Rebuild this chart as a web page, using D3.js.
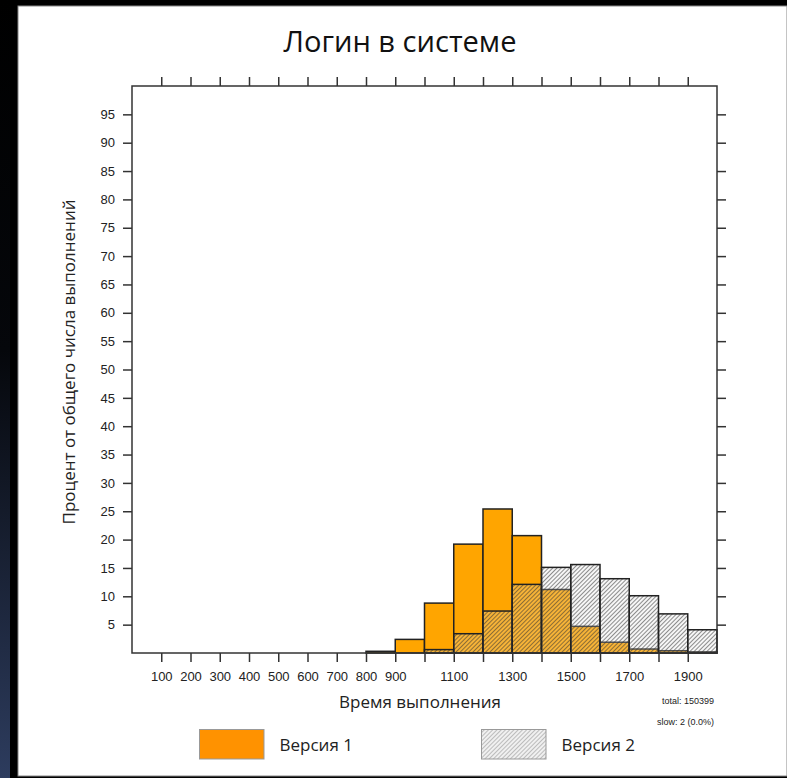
<!DOCTYPE html>
<html><head><meta charset="utf-8">
<script src="https://cdn.jsdelivr.net/npm/d3@7"></script>
<style>
html,body{margin:0;padding:0;background:#000;}
svg{display:block;}
</style></head>
<body>
<script>
const title = "Логин в системе";
const xTitle = "Время выполнения";
const yTitle = "Процент от общего числа выполнений";
const binStarts = [0,100,200,300,400,500,600,700,800,900,1000,1100,1200,1300,1400,1500,1600,1700,1800,1900];
const version1 = [0,0,0,0,0,0,0,0,0.3,2.4,8.8,19.2,25.4,20.7,11.2,4.7,1.9,0.7,0.4,0.2];
const version2 = [0,0,0,0,0,0,0,0,0,0,0.6,3.4,7.4,12.1,15.1,15.6,13.1,10.1,6.9,4.1];
const xTicks = [100,200,300,400,500,600,700,800,900,1000,1100,1200,1300,1400,1500,1600,1700,1800,1900];
const xTickLabels = [100,200,300,400,500,600,700,800,900,1100,1300,1500,1700,1900];
const yTicks = [5,10,15,20,25,30,35,40,45,50,55,60,65,70,75,80,85,90,95];
const seriesNames = ["Версия 1","Версия 2"];
const notes = ["total: 150399","slow: 2 (0.0%)"];

const W = 787, H = 778;
const svg = d3.select("body").append("svg").attr("width", W).attr("height", H);
const defs = svg.append("defs");
const grad = defs.append("linearGradient").attr("id","sideGrad").attr("x1",0).attr("y1",0).attr("x2",0).attr("y2",1);
grad.append("stop").attr("offset","0").attr("stop-color","#000");
grad.append("stop").attr("offset","0.45").attr("stop-color","#05070b");
grad.append("stop").attr("offset","1").attr("stop-color","#2d3c5e");
const pat = defs.append("pattern").attr("id","hatch").attr("patternUnits","userSpaceOnUse")
  .attr("width",3).attr("height",3).attr("patternTransform","rotate(45)");
pat.append("rect").attr("width",3).attr("height",3).attr("fill","rgba(220,220,220,0.25)");
pat.append("line").attr("x1",0).attr("y1",0).attr("x2",0).attr("y2",3).attr("stroke","#333").attr("stroke-width",1.1);
const pat2 = defs.append("pattern").attr("id","hatchL").attr("patternUnits","userSpaceOnUse")
  .attr("width",3).attr("height",3).attr("patternTransform","rotate(45)");
pat2.append("rect").attr("width",3).attr("height",3).attr("fill","#f0f0f0");
pat2.append("line").attr("x1",0).attr("y1",0).attr("x2",0).attr("y2",3).attr("stroke","#888").attr("stroke-width",1);

// background
svg.append("rect").attr("width",W).attr("height",H).attr("fill","#000");
svg.append("rect").attr("x",0).attr("y",0).attr("width",10).attr("height",H).attr("fill","url(#sideGrad)");
svg.append("rect").attr("x",18).attr("y",6).attr("width",W-18).attr("height",770).attr("fill","#fff").attr("stroke","#888").attr("stroke-width",1);

const L = 132, R = 717, T = 86, B = 653;
const x = d3.scaleLinear().domain([0,2000]).range([L,R]);
const y = d3.scaleLinear().domain([0,100]).range([B,T]);

// title
svg.append("text").attr("x",400).attr("y",52).attr("text-anchor","middle")
  .attr("font-family","Open Sans").attr("font-size",29).attr("font-weight",500).attr("fill","#111")
  .attr("textLength",233).attr("lengthAdjust","spacingAndGlyphs").text(title);

const g = svg.append("g");
// v1 bars
g.selectAll("rect.v1").data(binStarts.map((s,i)=>({s,v:version1[i]})).filter(d=>d.v>0))
  .enter().append("rect").attr("class","v1")
  .attr("x",d=>x(d.s)).attr("width",d=>x(d.s+100)-x(d.s))
  .attr("y",d=>y(d.v)).attr("height",d=>y(0)-y(d.v))
  .attr("fill","#ffa500").attr("stroke","#222").attr("stroke-width",1.5);
// v2 bars
g.selectAll("rect.v2").data(binStarts.map((s,i)=>({s,v:version2[i]})).filter(d=>d.v>0))
  .enter().append("rect").attr("class","v2")
  .attr("x",d=>x(d.s)).attr("width",d=>x(d.s+100)-x(d.s))
  .attr("y",d=>y(d.v)).attr("height",d=>y(0)-y(d.v))
  .attr("fill","url(#hatch)").attr("stroke","#222").attr("stroke-width",1.5);

// frame
svg.append("rect").attr("x",L).attr("y",T).attr("width",R-L).attr("height",B-T)
  .attr("fill","none").attr("stroke","#333").attr("stroke-width",1.5);

const tickLen = 9;
const axStyle = sel => { sel.select(".domain").remove(); sel.selectAll("line").attr("stroke","#333").attr("stroke-width",1.5); };
const fontAx = sel => sel.selectAll("text").attr("font-family","Liberation Sans, Arial").attr("font-size",13).attr("fill","#222");

const xb = svg.append("g").attr("transform",`translate(0,${B})`)
  .call(d3.axisBottom(x).tickValues(xTicks).tickSize(tickLen).tickPadding(10)
    .tickFormat(d=>xTickLabels.includes(d)?d:""));
axStyle(xb); fontAx(xb);
const xt = svg.append("g").attr("transform",`translate(0,${T})`)
  .call(d3.axisTop(x).tickValues(xTicks).tickSize(tickLen).tickFormat(""));
axStyle(xt);
const yl = svg.append("g").attr("transform",`translate(${L},0)`)
  .call(d3.axisLeft(y).tickValues(yTicks).tickSize(tickLen).tickPadding(8));
axStyle(yl); fontAx(yl);
const yr = svg.append("g").attr("transform",`translate(${R},0)`)
  .call(d3.axisRight(y).tickValues(yTicks).tickSize(tickLen).tickFormat(""));
axStyle(yr);

// axis titles
svg.append("text").attr("x",420).attr("y",708).attr("text-anchor","middle")
  .attr("font-family","Open Sans").attr("font-size",17).attr("fill","#222").text(xTitle);
svg.append("text").attr("transform","translate(75,362) rotate(-90)").attr("text-anchor","middle")
  .attr("font-family","Open Sans").attr("font-size",17).attr("fill","#222").text(yTitle);

// notes
svg.append("text").attr("x",714).attr("y",704).attr("text-anchor","end")
  .attr("font-family","Liberation Sans, Arial").attr("font-size",9).attr("fill","#222").text(notes[0]);
svg.append("text").attr("x",714).attr("y",725).attr("text-anchor","end")
  .attr("font-family","Liberation Sans, Arial").attr("font-size",9).attr("fill","#222").text(notes[1]);

// legend
const leg = [{x:199.5, fill:"#ff9200"},{x:481.5, fill:"url(#hatchL)"}];
leg.forEach((l,i)=>{
  svg.append("rect").attr("x",l.x).attr("y",729.5).attr("width",64.5).attr("height",29.5)
    .attr("fill",l.fill).attr("stroke","#999").attr("stroke-width",1);
  svg.append("text").attr("x",l.x+80).attr("y",751).attr("font-family","Open Sans")
    .attr("font-size",17).attr("fill","#222").text(seriesNames[i]);
});
</script>
</body></html>
